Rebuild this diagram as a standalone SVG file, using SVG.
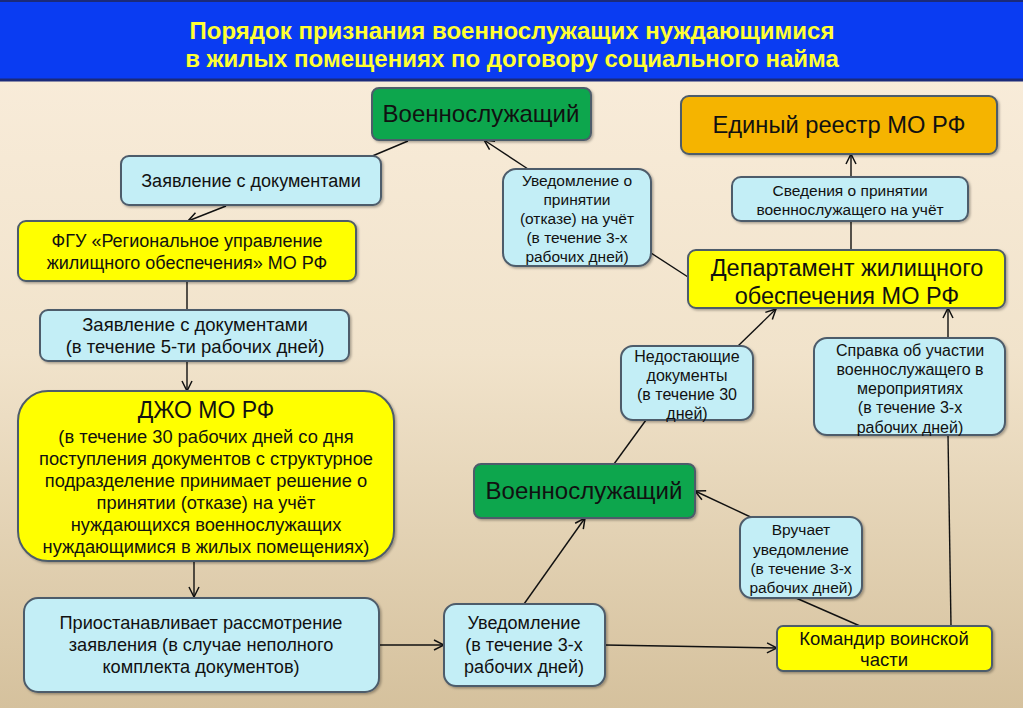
<svg xmlns="http://www.w3.org/2000/svg" width="1023" height="708" viewBox="0 0 1023 708">
<defs>
<linearGradient id="bg" x1="0" y1="0" x2="0" y2="1">
<stop offset="0" stop-color="#FAEEDD"/>
<stop offset="0.5" stop-color="#F1E3CB"/>
<stop offset="1" stop-color="#D5C19D"/>
</linearGradient>
<marker id="arr" viewBox="0 0 12 12" refX="11" refY="6" markerWidth="12" markerHeight="12" markerUnits="userSpaceOnUse" orient="auto">
<path d="M1,1 L11,6 L1,11" fill="none" stroke="#111" stroke-width="1.5"/>
</marker>
<filter id="sh" x="-5%" y="-5%" width="115%" height="120%">
<feDropShadow dx="1.5" dy="1.5" stdDeviation="1.2" flood-color="#000" flood-opacity="0.3"/>
</filter>
</defs>
<style>
.box{stroke:#4E5C6B;stroke-width:2;filter:url(#sh)}
.blue{fill:#C3EEF6}
.yel{fill:#FFFF00}
.grn{fill:#0AA64E}
.org{fill:#F5B401}
.n{font-family:"Liberation Sans Narrow","Arial Narrow","Liberation Sans",sans-serif;font-stretch:condensed;fill:#111;text-anchor:middle}
.r{font-family:"Liberation Sans",Arial,sans-serif;fill:#111;text-anchor:middle}
.ttl{font-family:"Liberation Sans Narrow","Arial Narrow","Liberation Sans",sans-serif;font-stretch:condensed;font-weight:bold;fill:#FFFF33;text-anchor:middle;font-size:24px}
#connectors line, #connectors path{stroke:#111;stroke-width:1.4;fill:none}
</style>
<rect width="1023" height="708" fill="url(#bg)"/>
<g id="title">
<rect x="0" y="0" width="1023" height="80" fill="#0A3CF2"/>
<line x1="0" y1="80" x2="1023" y2="80" stroke="#1B2A7A" stroke-width="3"/>
<line x1="0" y1="1" x2="1023" y2="1" stroke="#1B2A7A" stroke-width="2"/>
<text class="ttl" x="512" y="39">Порядок признания военнослужащих нуждающимися</text>
<text class="ttl" x="512" y="67">в жилых помещениях по договору социального найма</text>
</g>
<g id="connectors">
<line x1="408" y1="141" x2="370" y2="157"/>
<line x1="226" y1="206" x2="188" y2="221" marker-end="url(#arr)"/>
<line x1="187" y1="282" x2="187" y2="310"/>
<line x1="187" y1="362" x2="187" y2="391" marker-end="url(#arr)"/>
<line x1="194" y1="562" x2="194" y2="597" marker-end="url(#arr)"/>
<line x1="379" y1="645" x2="444" y2="645" marker-end="url(#arr)"/>
<line x1="524" y1="604" x2="585" y2="518" marker-end="url(#arr)"/>
<line x1="605" y1="645" x2="777" y2="648" marker-end="url(#arr)"/>
<line x1="860" y1="626" x2="796" y2="598"/>
<line x1="757" y1="520" x2="695" y2="491" marker-end="url(#arr)"/>
<line x1="951" y1="626" x2="948" y2="435"/>
<line x1="948" y1="338" x2="948" y2="308" marker-end="url(#arr)"/>
<line x1="614" y1="464" x2="646" y2="420"/>
<line x1="738" y1="346" x2="776" y2="309" marker-end="url(#arr)"/>
<line x1="688" y1="277" x2="651" y2="253"/>
<line x1="528" y1="169" x2="484" y2="140" marker-end="url(#arr)"/>
<line x1="851" y1="250" x2="851" y2="221"/>
<line x1="851" y1="177" x2="851" y2="154" marker-end="url(#arr)"/>
</g>
<g id="n-voen1">
<rect class="box grn" x="372" y="88" width="219" height="52" rx="7"/>
<text class="n" x="481" y="122" font-size="24">Военнослужащий</text>
</g>
<g id="n-zayav1">
<rect class="box blue" x="121" y="156" width="260" height="49" rx="8"/>
<text class="n" x="251" y="187" font-size="18">Заявление с документами</text>
</g>
<g id="n-fgu">
<rect class="box yel" x="18" y="221" width="338" height="60" rx="8"/>
<text class="n" x="187" y="247" font-size="18">ФГУ «Региональное управление</text>
<text class="n" x="187" y="269" font-size="18">жилищного обеспечения» МО РФ</text>
</g>
<g id="n-zayav2">
<rect class="box blue" x="40" y="310" width="309" height="51" rx="8"/>
<text class="n" x="195" y="331" font-size="18.5">Заявление с документами</text>
<text class="n" x="195" y="353" font-size="18.5">(в течение 5-ти рабочих дней)</text>
</g>
<g id="n-djo">
<rect class="box yel" x="18" y="391" width="376" height="170" rx="30"/>
<text class="r" x="206" y="418" font-size="23">ДЖО МО РФ</text>
<text class="r" x="206" y="443" font-size="18.3">(в течение 30 рабочих дней со дня</text>
<text class="r" x="206" y="465" font-size="18.3">поступления документов с структурное</text>
<text class="r" x="206" y="487" font-size="18.3">подразделение принимает решение о</text>
<text class="r" x="206" y="509" font-size="18.3">принятии (отказе) на учёт</text>
<text class="r" x="206" y="531" font-size="18.3">нуждающихся военнослужащих</text>
<text class="r" x="206" y="553" font-size="18.3">нуждающимися в жилых помещениях)</text>
</g>
<g id="n-priost">
<rect class="box blue" x="24" y="598" width="355" height="94" rx="14"/>
<text class="r" x="201" y="629" font-size="18.2">Приостанавливает рассмотрение</text>
<text class="r" x="201" y="651" font-size="18.2">заявления (в случае неполного</text>
<text class="r" x="201" y="673" font-size="18.2">комплекта документов)</text>
</g>
<g id="n-uved2">
<rect class="box blue" x="444" y="604" width="161" height="82" rx="12"/>
<text class="n" x="524" y="629" font-size="18">Уведомление</text>
<text class="n" x="524" y="651" font-size="18">(в течение 3-х</text>
<text class="n" x="524" y="673" font-size="18">рабочих дней)</text>
</g>
<g id="n-voen2">
<rect class="box grn" x="474" y="464" width="221" height="54" rx="7"/>
<text class="n" x="584" y="499" font-size="24">Военнослужащий</text>
</g>
<g id="n-vruch">
<rect class="box blue" x="740" y="517" width="122" height="81" rx="12"/>
<text class="n" x="801" y="535" font-size="15.5">Вручает</text>
<text class="n" x="801" y="555" font-size="15.5">уведомление</text>
<text class="n" x="801" y="574" font-size="15.5">(в течение 3-х</text>
<text class="n" x="801" y="593" font-size="15.5">рабочих дней)</text>
</g>
<g id="n-komand">
<rect class="box yel" x="777" y="626" width="215" height="45" rx="6"/>
<text class="n" x="884" y="645" font-size="18.5">Командир воинской</text>
<text class="n" x="884" y="666" font-size="18.5">части</text>
</g>
<g id="n-nedost">
<rect class="box blue" x="621" y="346" width="132" height="74" rx="12"/>
<text class="r" x="687" y="361.5" font-size="16">Недостающие</text>
<text class="r" x="687" y="380.5" font-size="16">документы</text>
<text class="r" x="687" y="399.5" font-size="16">(в течение 30</text>
<text class="r" x="687" y="418.5" font-size="16">дней)</text>
</g>
<g id="n-spravka">
<rect class="box blue" x="814" y="338" width="191" height="97" rx="13"/>
<text class="r" x="910" y="355.5" font-size="16">Справка об участии</text>
<text class="r" x="910" y="374.5" font-size="16">военнослужащего в</text>
<text class="r" x="910" y="393.5" font-size="16">мероприятиях</text>
<text class="r" x="910" y="412.5" font-size="16">(в течение 3-х</text>
<text class="r" x="910" y="432.5" font-size="16">рабочих дней)</text>
</g>
<g id="n-depart">
<rect class="box yel" x="688" y="250" width="317" height="58" rx="8"/>
<text class="r" x="847" y="276" font-size="23.5">Департамент жилищного</text>
<text class="r" x="847" y="304" font-size="23.5">обеспечения МО РФ</text>
</g>
<g id="n-sved">
<rect class="box blue" x="732" y="177" width="236" height="44" rx="9"/>
<text class="r" x="850" y="195.5" font-size="15.5">Сведения о принятии</text>
<text class="r" x="850" y="214.5" font-size="15.5">военнослужащего на учёт</text>
</g>
<g id="n-reestr">
<rect class="box org" x="681" y="96" width="316" height="58" rx="8"/>
<text class="r" x="839" y="133" font-size="23.7">Единый реестр МО РФ</text>
</g>
<g id="n-uved1">
<rect class="box blue" x="503" y="169" width="148" height="97" rx="13"/>
<text class="n" x="577" y="186" font-size="15.5">Уведомление о</text>
<text class="n" x="577" y="205" font-size="15.5">принятии</text>
<text class="n" x="577" y="224" font-size="15.5">(отказе) на учёт</text>
<text class="n" x="577" y="243" font-size="15.5">(в течение 3-х</text>
<text class="n" x="577" y="262" font-size="15.5">рабочих дней)</text>
</g>
</svg>
